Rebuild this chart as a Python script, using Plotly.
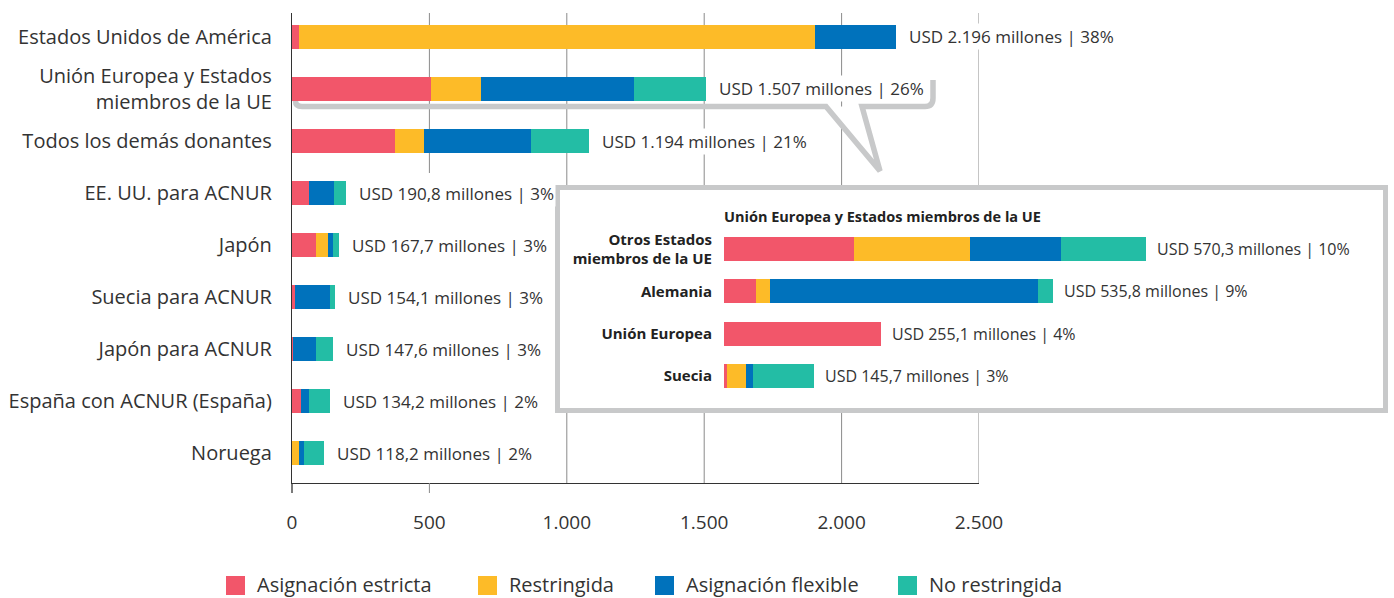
import plotly.graph_objects as go

W, H = 1394, 598

# ---------------- data ----------------
series = ["Asignación estricta", "Restringida", "Asignación flexible", "No restringida"]
colors = ["#F2566A", "#FDBB28", "#0072BC", "#23BDA5"]

donors = [
    "Estados Unidos de América",
    "Unión Europea y Estados<br>miembros de la UE",
    "Todos los demás donantes",
    "EE. UU. para ACNUR",
    "Japón",
    "Suecia para ACNUR",
    "Japón para ACNUR",
    "España con ACNUR (España)",
    "Noruega",
]
estricta = [25, 506, 375, 62, 87, 12, 5, 33, 0]
restringida = [1878, 182, 106, 0, 44, 0, 0, 0, 25]
flexible = [294, 557, 389, 91, 18, 127, 84, 29, 18]
no_restringida = [0, 262, 211, 44, 22, 18, 62, 76, 73]
donor_labels = [
    "USD 2.196 millones | 38%",
    "USD 1.507 millones | 26%",
    "USD 1.194 millones | 21%",
    "USD 190,8 millones | 3%",
    "USD 167,7 millones | 3%",
    "USD 154,1 millones | 3%",
    "USD 147,6 millones | 3%",
    "USD 134,2 millones | 2%",
    "USD 118,2 millones | 2%",
]

eu_title = "Unión Europea y Estados miembros de la UE"
eu_members = ["Otros Estados<br>miembros de la UE", "Alemania", "Unión Europea", "Suecia"]
eu_estricta = [211, 52, 255, 5]
eu_restringida = [188, 23, 0, 31]
eu_flexible = [148, 435, 0, 11]
eu_no_restringida = [138, 24, 0, 99]
eu_labels = [
    "USD 570,3 millones | 10%",
    "USD 535,8 millones | 9%",
    "USD 255,1 millones | 4%",
    "USD 145,7 millones | 3%",
]

x_tickvals = [0, 500, 1000, 1500, 2000, 2500]
x_ticktext = ["0", "500", "1.000", "1.500", "2.000", "2.500"]

# ---------------- geometry (pixels) ----------------
FONT = "Open Sans"
TXT = "#333333"
GRID = "#8a8a8a"
GREY = "#C8C9CA"

PX0, PX1 = 292, 979          # main x: 0 .. 2500
PY_TOP, PY_BOT = 13, 483
ROW0, ROWSTEP, BARPX = 37, 52, 24

BX0, BX1, BY0, BY1 = 555, 1388, 185, 413   # inset box (outer)
IX0, ISCALE = 724, 0.6155                  # inset zero and px per unit
IR0, IRSTEP = 249, 42.33


def px(xp):
    return xp / W


def py(yp):
    return 1 - yp / H


main_series = [estricta, restringida, flexible, no_restringida]
eu_series = [eu_estricta, eu_restringida, eu_flexible, eu_no_restringida]

ypos = list(range(len(donors)))
eu_ypos = list(range(len(eu_members)))

fig = go.Figure()

for name, col, vals in zip(series, colors, main_series):
    fig.add_trace(go.Bar(
        x=vals, y=ypos, orientation="h", name=name,
        marker=dict(color=col, line=dict(width=0)),
        width=BARPX / ROWSTEP, xaxis="x", yaxis="y", showlegend=False,
        hovertemplate="%{x}<extra>" + name + "</extra>",
    ))

for name, col, vals in zip(series, colors, eu_series):
    fig.add_trace(go.Bar(
        x=vals, y=eu_ypos, orientation="h", name=name,
        marker=dict(color=col, line=dict(width=0)),
        width=BARPX / IRSTEP, xaxis="x2", yaxis="y2", showlegend=False,
        hovertemplate="%{x}<extra>" + name + "</extra>",
    ))

totals = [sum(v) for v in zip(*main_series)]
eu_totals = [sum(v) for v in zip(*eu_series)]

annotations = []
shapes = []

# value labels main
for i, (t, lab) in enumerate(zip(totals, donor_labels)):
    annotations.append(dict(
        x=t, y=i, xref="x", yref="y", text=lab, showarrow=False,
        xanchor="left", yanchor="middle", xshift=11,
        font=dict(family=FONT, size=17, color=TXT),
        bgcolor="white", borderpad=1,
    ))

# value labels inset
for i, (t, lab) in enumerate(zip(eu_totals, eu_labels)):
    annotations.append(dict(
        x=t, y=i, xref="x2", yref="y2", text=lab, showarrow=False,
        xanchor="left", yanchor="middle", xshift=9,
        font=dict(family=FONT, size=16, color=TXT),
    ))

# inset title
annotations.append(dict(
    x=px(IX0), y=py(216.5), xref="paper", yref="paper", text=eu_title,
    showarrow=False, xanchor="left", yanchor="middle", xshift=-2,
    font=dict(family=FONT, size=14.5, color="#222222", weight=700),
))

# custom gridlines
top_y = (PY_TOP - ROW0) / ROWSTEP
bot_y = (PY_BOT - ROW0) / ROWSTEP
for v in x_tickvals[1:]:
    y_end = (173 - ROW0) / ROWSTEP if v == 500 else bot_y
    shapes.append(dict(type="line", xref="x", yref="y", x0=v, x1=v,
                       y0=top_y, y1=y_end, layer="below",
                       line=dict(color=GRID, width=1)))
# small ticks under axis for 0 and 500
for v, c in [(0, "#333333"), (500, GRID)]:
    xx = PX0 + v * (PX1 - PX0) / 2500
    shapes.append(dict(type="line", xref="paper", yref="paper",
                       x0=px(xx), x1=px(xx), y0=py(PY_BOT), y1=py(493),
                       line=dict(color=c, width=1.3 if v == 0 else 1)))


def ix(xp):
    return (xp - IX0) / ISCALE


def iy(yp):
    return (yp - IR0) / IRSTEP


# inset box (in inset subplot, below its bars but above main subplot)
shapes.append(dict(type="rect", xref="x2", yref="y2",
                   x0=ix(BX0 + 2.5), x1=ix(BX1 - 2.5), y0=iy(BY0 + 2.5), y1=iy(BY1 - 2.5),
                   fillcolor="white", line=dict(color=GREY, width=5), layer="below"))


# speech bubble callout
def P(xp, yp):
    return f"{px(xp):.5f},{py(yp):.5f}"


tail = f"M{P(826, 106.5)} L{P(880, 171)} L{P(862, 106.5)} Z"
shapes.append(dict(type="path", xref="paper", yref="paper", path=tail,
                   fillcolor="white", line=dict(width=0), layer="above"))
bubble = (f"M{P(295.5, 101)} Q{P(295.5, 106.5)} {P(302, 106.5)} "
          f"L{P(826, 106.5)} L{P(880, 171)} L{P(862, 106.5)} "
          f"L{P(925, 106.5)} Q{P(933, 106.5)} {P(933, 98)} L{P(933, 80)}")
shapes.append(dict(type="path", xref="paper", yref="paper", path=bubble,
                   line=dict(color=GREY, width=5.5), layer="above"))

# manual legend
leg_x = [226, 478, 655, 898]
for name, col, lx in zip(series, colors, leg_x):
    shapes.append(dict(type="rect", xref="paper", yref="paper",
                       x0=px(lx), x1=px(lx + 19), y0=py(576), y1=py(595),
                       fillcolor=col, line=dict(width=0)))
    annotations.append(dict(
        x=px(lx + 29), y=py(584), xref="paper", yref="paper", text=name,
        showarrow=False, xanchor="left", yanchor="middle",
        font=dict(family=FONT, size=20, color=TXT),
    ))

fig.update_layout(
    width=W, height=H, autosize=False,
    margin=dict(l=0, r=0, t=0, b=0, pad=0, autoexpand=False),
    paper_bgcolor="white", plot_bgcolor="white",
    barmode="stack", bargap=0,
    font=dict(family=FONT, color=TXT),
    showlegend=False,
    xaxis=dict(
        domain=[px(PX0), px(PX1)], range=[0, 2500],
        tickvals=x_tickvals, ticktext=x_ticktext,
        tickfont=dict(family=FONT, size=19, color=TXT),
        showgrid=False, zeroline=False, showline=True,
        linecolor="#333333", linewidth=1.3, ticks="",
        ticklabelstandoff=22, fixedrange=True, anchor="y", automargin=False,
    ),
    yaxis=dict(
        domain=[py(PY_BOT), py(PY_TOP)], range=[bot_y, top_y],
        tickvals=ypos, ticktext=donors,
        tickfont=dict(family=FONT, size=20, color=TXT),
        showgrid=False, zeroline=False, showline=True,
        linecolor="#333333", linewidth=1.3, ticks="",
        ticklabelstandoff=15, fixedrange=True, anchor="x", automargin=False,
    ),
    xaxis2=dict(
        domain=[px(BX0), px(BX1)], range=[ix(BX0), ix(BX1)],
        visible=False, showgrid=False, zeroline=False, anchor="y2",
        fixedrange=True, automargin=False,
    ),
    yaxis2=dict(
        domain=[py(BY1), py(BY0)], range=[iy(BY1), iy(BY0)],
        tickvals=eu_ypos, ticktext=eu_members,
        tickfont=dict(family=FONT, size=15, color="#222222", weight=700),
        showgrid=False, zeroline=False, showline=False, ticks="",
        anchor="free", position=px(IX0), ticklabelstandoff=12,
        fixedrange=True, automargin=False,
    ),
    annotations=annotations,
    shapes=shapes,
)

fig.write_html(
    "out.html",
    config={"responsive": False, "displayModeBar": False},
    post_script="document.body.style.margin='0';document.body.style.overflow='hidden';",
)
